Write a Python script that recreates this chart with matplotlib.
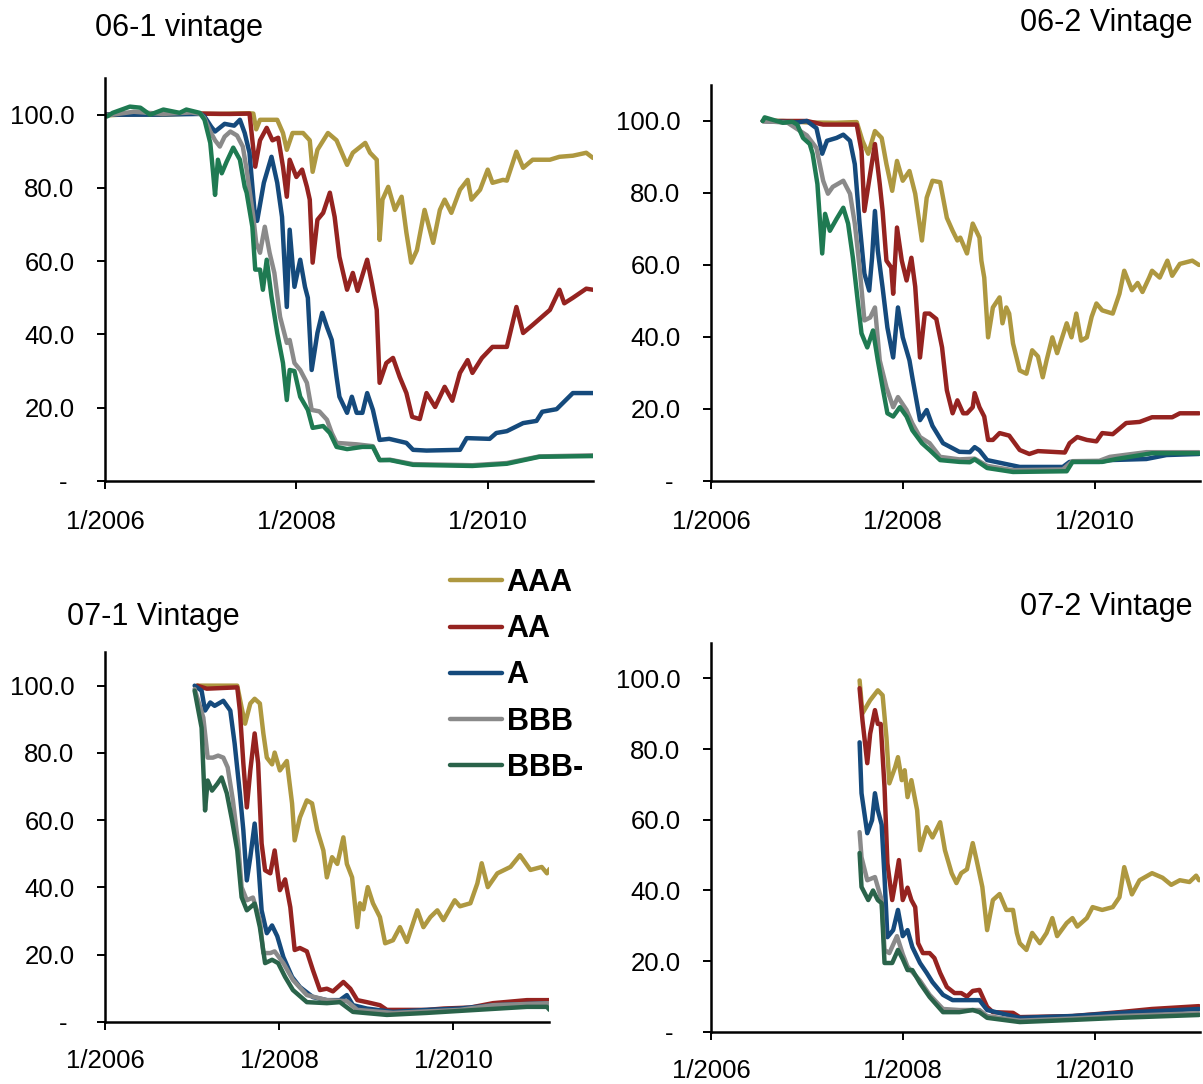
import numpy as np
import matplotlib
matplotlib.use('Agg')
import matplotlib.pyplot as plt
from matplotlib.lines import Line2D

plt.rcParams['font.family'] = ['Liberation Sans', 'DejaVu Sans']

ratings = ['AAA', 'AA', 'A', 'BBB', 'BBB-']
x_ticks = [2006, 2008, 2010]
x_labels = ['1/2006', '1/2008', '1/2010']
y_ticks = [0, 20, 40, 60, 80, 100]

# (decimal year, price)
# 06-1 vintage
p1_aaa = [(2006.02, 99.8), (2006.3, 100.2), (2006.6, 100.0), (2006.9, 100.3), (2007.2, 100.2),
          (2007.5, 100.4), (2007.55, 100.3), (2007.58, 96.0), (2007.62, 98.6), (2007.8, 98.6),
          (2007.86, 95), (2007.9, 90.4), (2007.96, 95), (2008.07, 95), (2008.14, 93), (2008.17, 84.4),
          (2008.22, 90.4), (2008.33, 95), (2008.42, 93), (2008.53, 86.3), (2008.59, 89.6),
          (2008.72, 92.3), (2008.77, 89.6), (2008.84, 87.7), (2008.87, 65.8), (2008.90, 76.8),
          (2008.96, 80.3), (2009.03, 74), (2009.10, 77.6), (2009.15, 67.8), (2009.20, 59.6),
          (2009.26, 63), (2009.34, 74), (2009.43, 65), (2009.50, 74), (2009.55, 76.8), (2009.62, 73.2),
          (2009.71, 79.5), (2009.79, 82.2), (2009.83, 76.8), (2009.92, 79.5), (2010.0, 85),
          (2010.05, 81.4), (2010.16, 82.2), (2010.20, 82), (2010.30, 89.9), (2010.37, 85.5),
          (2010.47, 87.7), (2010.65, 87.7), (2010.75, 88.5), (2010.89, 88.8), (2011.03, 89.6),
          (2011.10, 88.2)]
p1_aa = [(2006.02, 100), (2006.5, 100.2), (2007.0, 100.3), (2007.3, 100.2), (2007.51, 100.3),
         (2007.57, 85.8), (2007.62, 93), (2007.69, 96.4), (2007.75, 93), (2007.81, 93.7),
         (2007.86, 85.8), (2007.90, 77.6), (2007.93, 87.7), (2008.0, 83), (2008.06, 85),
         (2008.11, 80.3), (2008.14, 76.8), (2008.17, 59.6), (2008.22, 71.3), (2008.28, 73.2),
         (2008.35, 78.7), (2008.40, 72.1), (2008.45, 61.2), (2008.53, 52.2), (2008.59, 56.8),
         (2008.64, 51.9), (2008.74, 60.4), (2008.79, 53.9), (2008.84, 46.7), (2008.87, 26.8),
         (2008.94, 32.2), (2009.01, 33.6), (2009.08, 28.4), (2009.15, 24), (2009.21, 17.5),
         (2009.29, 16.9), (2009.36, 24), (2009.45, 20.2), (2009.55, 25.7), (2009.63, 21.9),
         (2009.71, 29.5), (2009.79, 33), (2009.84, 29.5), (2009.94, 33.6), (2010.05, 36.6),
         (2010.20, 36.6), (2010.30, 47.5), (2010.37, 40.4), (2010.47, 42.6), (2010.65, 46.7),
         (2010.75, 52.2), (2010.80, 48.5), (2010.89, 50), (2011.03, 52.5), (2011.10, 52.2)]
p1_a = [(2006.02, 100), (2006.5, 100), (2007.0, 100.2), (2007.04, 99.5), (2007.11, 96.7),
        (2007.15, 95.4), (2007.25, 97.5), (2007.35, 97), (2007.41, 98.6), (2007.46, 95),
        (2007.51, 89.6), (2007.57, 71.3), (2007.59, 71), (2007.66, 81.4), (2007.74, 88.5),
        (2007.80, 81.4), (2007.85, 72.1), (2007.90, 47.5), (2007.93, 68.6), (2007.98, 53),
        (2008.04, 60.4), (2008.09, 53), (2008.12, 50), (2008.16, 30.3), (2008.22, 40.4),
        (2008.27, 45.9), (2008.32, 42), (2008.37, 38.5), (2008.42, 28.4), (2008.45, 23),
        (2008.53, 18.6), (2008.58, 23), (2008.63, 18.6), (2008.69, 18.6), (2008.74, 24),
        (2008.80, 19.4), (2008.87, 11.2), (2008.97, 11.5), (2009.15, 10.4), (2009.22, 8.5),
        (2009.36, 8.3), (2009.71, 8.5), (2009.78, 11.7), (2010.02, 11.5), (2010.09, 13.1),
        (2010.20, 13.6), (2010.37, 15.8), (2010.51, 16.4), (2010.57, 18.9), (2010.72, 19.6),
        (2010.89, 24), (2011.10, 24)]
p1_bbb = [(2006.02, 99.8), (2006.3, 100.8), (2006.6, 100.2), (2006.9, 100.6), (2007.0, 100.2),
          (2007.04, 99), (2007.10, 95.4), (2007.15, 93), (2007.20, 91.3), (2007.25, 94),
          (2007.31, 95.4), (2007.38, 94.3), (2007.44, 91.3), (2007.48, 85), (2007.55, 72.1),
          (2007.58, 65), (2007.62, 62.3), (2007.67, 69.4), (2007.72, 62.3), (2007.77, 56.8),
          (2007.83, 44.8), (2007.90, 37.7), (2007.93, 38.5), (2007.98, 32.2), (2008.04, 30.3),
          (2008.11, 26.8), (2008.16, 19.4), (2008.24, 19), (2008.32, 16.7), (2008.37, 13.1),
          (2008.42, 10.4), (2008.63, 10), (2008.80, 9.5), (2008.87, 5.7), (2008.98, 5.8),
          (2009.22, 4.6), (2009.84, 4.3), (2010.20, 4.9), (2010.54, 6.7), (2011.10, 7)]
p1_bbbm = [(2006.02, 99.5), (2006.08, 100.5), (2006.26, 102.2), (2006.37, 101.9), (2006.47, 100),
           (2006.61, 101.4), (2006.78, 100.5), (2006.85, 101.4), (2006.99, 100.5), (2007.04, 98.6),
           (2007.10, 92.3), (2007.13, 84), (2007.15, 78.1), (2007.18, 87.7), (2007.22, 84),
           (2007.27, 87.1), (2007.34, 91), (2007.41, 87.7), (2007.46, 80.3), (2007.48, 78.7),
           (2007.54, 69.4), (2007.57, 57.7), (2007.62, 57.7), (2007.65, 52.2), (2007.69, 60.4),
           (2007.74, 50.3), (2007.80, 40.4), (2007.86, 32.2), (2007.90, 22.1), (2007.93, 30.3),
           (2007.98, 30), (2008.04, 23), (2008.12, 19.4), (2008.17, 14.5), (2008.28, 15),
           (2008.35, 13.1), (2008.42, 9.3), (2008.53, 8.7), (2008.69, 9.3), (2008.80, 9.3),
           (2008.87, 5.7), (2008.98, 5.7), (2009.22, 4.4), (2009.84, 4.1), (2010.20, 4.7),
           (2010.54, 6.6), (2011.10, 6.8)]

# 06-2 vintage
p2_aaa = [(2006.54, 100), (2006.75, 100), (2007.0, 99.6), (2007.3, 99.5), (2007.52, 99.7),
          (2007.58, 94.5), (2007.64, 90.9), (2007.71, 97.2), (2007.78, 95.3), (2007.83, 88),
          (2007.89, 80.6), (2007.94, 88.9), (2008.0, 83.4), (2008.07, 86.1), (2008.13, 79.8),
          (2008.20, 66.8), (2008.25, 78.7), (2008.31, 83.4), (2008.39, 83), (2008.46, 73.1),
          (2008.52, 69.5), (2008.57, 66.8), (2008.60, 67.6), (2008.67, 63.2), (2008.73, 71.5),
          (2008.80, 67.6), (2008.82, 61.2), (2008.85, 56.5), (2008.89, 39.9), (2008.94, 48.2),
          (2009.01, 51), (2009.04, 43.8), (2009.08, 48.2), (2009.11, 46.5), (2009.15, 38.2),
          (2009.22, 30.7), (2009.29, 29.8), (2009.35, 36.3), (2009.41, 34.6), (2009.46, 28.8),
          (2009.50, 33.5), (2009.56, 39.9), (2009.61, 35.5), (2009.71, 43.8), (2009.76, 39.9),
          (2009.81, 46.5), (2009.86, 39), (2009.92, 39.9), (2009.97, 45.6), (2010.02, 49.3),
          (2010.08, 47.4), (2010.19, 46.5), (2010.26, 52), (2010.31, 58.4), (2010.39, 53),
          (2010.45, 55), (2010.50, 52.5), (2010.57, 56.5), (2010.60, 58.4), (2010.68, 56.5),
          (2010.76, 61.2), (2010.81, 57), (2010.89, 60.3), (2011.02, 61.2), (2011.09, 60)]
p2_aa = [(2006.54, 100), (2006.75, 100), (2007.0, 100), (2007.17, 99), (2007.52, 99),
         (2007.57, 91.7), (2007.60, 75), (2007.66, 85.3), (2007.71, 93.6), (2007.76, 82.5),
         (2007.79, 75), (2007.83, 61.2), (2007.88, 59.3), (2007.90, 52), (2007.94, 70.4),
         (2007.99, 61.2), (2008.04, 55.7), (2008.09, 62), (2008.13, 54), (2008.18, 34.3),
         (2008.23, 46.5), (2008.28, 46.5), (2008.35, 45), (2008.41, 37.1), (2008.46, 25.2),
         (2008.52, 18.8), (2008.57, 22.4), (2008.63, 18.8), (2008.67, 18.8), (2008.73, 20.5),
         (2008.75, 24.4), (2008.80, 20.5), (2008.85, 17.9), (2008.89, 11.4), (2008.94, 11.4),
         (2009.01, 13.3), (2009.11, 12.6), (2009.22, 8.6), (2009.32, 7.5), (2009.41, 8.3),
         (2009.69, 7.9), (2009.74, 10.5), (2009.82, 12.2), (2009.92, 11.4), (2010.02, 11),
         (2010.08, 13.3), (2010.19, 13), (2010.33, 16.1), (2010.47, 16.4), (2010.60, 17.7),
         (2010.81, 17.7), (2010.89, 18.8), (2011.09, 18.8)]
p2_a = [(2006.54, 100), (2006.9, 99.6), (2007.0, 100), (2007.10, 98), (2007.16, 90.9),
        (2007.21, 94.5), (2007.31, 95.3), (2007.38, 96.2), (2007.45, 94.5), (2007.50, 88),
        (2007.55, 71.5), (2007.60, 57.6), (2007.65, 52.9), (2007.68, 62), (2007.71, 75),
        (2007.74, 64), (2007.79, 53.7), (2007.84, 42.6), (2007.90, 34.3), (2007.95, 48.2),
        (2008.0, 39.9), (2008.07, 33.5), (2008.10, 28.8), (2008.18, 16.9), (2008.25, 19.7),
        (2008.31, 15.3), (2008.42, 10.5), (2008.59, 8.1), (2008.70, 8.0), (2008.75, 9.4),
        (2008.80, 8.5), (2008.88, 5.8), (2009.22, 3.9), (2009.67, 3.9), (2009.74, 5.3),
        (2010.05, 5.3), (2010.16, 5.8), (2010.54, 6.1), (2010.75, 7.2), (2011.09, 7.5)]
p2_bbb = [(2006.54, 100), (2006.8, 99.5), (2007.0, 96), (2007.10, 92.5), (2007.17, 83.4),
          (2007.22, 79.8), (2007.27, 81.7), (2007.38, 83.4), (2007.45, 79.8), (2007.50, 71.5),
          (2007.55, 59.3), (2007.60, 44.6), (2007.66, 45.4), (2007.71, 48.2), (2007.76, 33.5),
          (2007.83, 26), (2007.90, 20.5), (2007.95, 23.3), (2008.04, 19.7), (2008.10, 16),
          (2008.18, 12.2), (2008.28, 10.5), (2008.39, 6.7), (2008.59, 6), (2008.75, 6.2),
          (2008.88, 4.2), (2009.15, 3.0), (2009.67, 3.2), (2009.77, 5.5), (2010.05, 5.6),
          (2010.16, 6.7), (2010.54, 8), (2011.09, 8)]
p2_bbbm = [(2006.54, 100), (2006.56, 101), (2006.75, 99.5), (2006.85, 99.8), (2006.90, 99),
           (2006.96, 95.3), (2007.03, 93.6), (2007.06, 90.9), (2007.11, 82.5), (2007.16, 63.2),
           (2007.19, 74.2), (2007.24, 69.5), (2007.31, 72.8), (2007.38, 75.9), (2007.43, 71.5),
           (2007.48, 62), (2007.53, 50.1), (2007.57, 41), (2007.63, 37.1), (2007.69, 41.8),
           (2007.74, 33.5), (2007.79, 26), (2007.84, 18.8), (2007.90, 17.9), (2007.97, 20.5),
           (2008.04, 17.9), (2008.10, 14.1), (2008.20, 10.5), (2008.28, 8.6), (2008.39, 5.8),
           (2008.59, 5.3), (2008.70, 5.2), (2008.75, 6.0), (2008.88, 3.6), (2009.15, 2.5),
           (2009.71, 2.7), (2009.77, 5.3), (2010.08, 5.3), (2010.23, 6.1), (2010.60, 7.7),
           (2011.09, 7.7)]

# 07-1 vintage
p3_aaa = [(2007.06, 100), (2007.52, 100), (2007.57, 93.5), (2007.61, 88.7), (2007.67, 94.7),
          (2007.72, 96.1), (2007.78, 94.7), (2007.82, 85.8), (2007.86, 78.6), (2007.92, 76.6),
          (2007.95, 80.1), (2008.01, 74.8), (2008.09, 77.6), (2008.15, 65), (2008.18, 54),
          (2008.24, 60.8), (2008.32, 65.9), (2008.38, 65), (2008.44, 57), (2008.51, 51),
          (2008.55, 43), (2008.61, 49), (2008.67, 47), (2008.74, 54.9), (2008.78, 47),
          (2008.84, 43), (2008.90, 28.2), (2008.93, 35.3), (2008.97, 33.5), (2009.02, 40.1),
          (2009.08, 35.3), (2009.16, 31.2), (2009.22, 23.4), (2009.31, 24.3), (2009.39, 28.2),
          (2009.47, 23.8), (2009.59, 33.2), (2009.66, 28.2), (2009.74, 31.2), (2009.82, 33.2),
          (2009.89, 30.3), (2010.02, 36.2), (2010.08, 34.4), (2010.20, 35.3), (2010.28, 41.2),
          (2010.33, 47.2), (2010.40, 40.1), (2010.51, 44.2), (2010.66, 46.1), (2010.77, 49.6),
          (2010.89, 45.2), (2011.02, 46.1), (2011.08, 44.2), (2011.11, 45.5)]
p3_aa = [(2007.06, 100), (2007.17, 99.1), (2007.52, 99.5), (2007.55, 92.6), (2007.59, 76.9),
         (2007.63, 63.8), (2007.67, 74.8), (2007.72, 85.8), (2007.76, 76.9), (2007.80, 53.1),
         (2007.84, 45.1), (2007.90, 44.2), (2007.95, 51), (2008.01, 39.2), (2008.07, 42.4),
         (2008.13, 34.1), (2008.18, 21.4), (2008.24, 22), (2008.32, 21), (2008.39, 15.4),
         (2008.47, 9.5), (2008.55, 9.9), (2008.62, 9.1), (2008.74, 11.9), (2008.82, 9.9),
         (2008.90, 6.5), (2009.01, 5.9), (2009.16, 5), (2009.24, 3.6), (2009.70, 3.6),
         (2009.89, 4), (2010.20, 4.3), (2010.46, 5.6), (2010.85, 6.5), (2011.11, 6.5)]
p3_a = [(2007.03, 100), (2007.11, 98.5), (2007.15, 92.6), (2007.21, 95), (2007.26, 94),
        (2007.36, 95.5), (2007.44, 92.6), (2007.49, 82.8), (2007.55, 68), (2007.59, 57),
        (2007.63, 42.1), (2007.67, 49), (2007.72, 59), (2007.76, 48), (2007.80, 33.2),
        (2007.86, 26.4), (2007.92, 28.7), (2007.98, 25.5), (2008.05, 19.3), (2008.15, 13.4),
        (2008.24, 10.4), (2008.39, 7.4), (2008.55, 6.5), (2008.70, 6.5), (2008.78, 8),
        (2008.85, 5), (2009.01, 4), (2009.31, 3), (2009.70, 3.6), (2010.08, 4), (2010.46, 5),
        (2011.11, 5.6)]
p3_bbb = [(2007.03, 99), (2007.13, 90.5), (2007.18, 78.6), (2007.24, 78.6), (2007.30, 79.2),
          (2007.36, 78.6), (2007.41, 75.7), (2007.47, 65.9), (2007.53, 53.1), (2007.57, 40.1),
          (2007.63, 36.2), (2007.70, 37), (2007.78, 30.3), (2007.82, 20.5), (2007.90, 20.5),
          (2007.95, 21), (2008.05, 17.5), (2008.16, 12.5), (2008.32, 8), (2008.55, 6.5),
          (2008.78, 6.2), (2008.90, 3.6), (2009.31, 2.7), (2010.08, 3.6), (2010.46, 5),
          (2011.11, 5.6)]
p3_bbbm = [(2007.03, 98.5), (2007.11, 87.5), (2007.15, 62.9), (2007.18, 71.8), (2007.23, 68.8),
           (2007.29, 70.8), (2007.34, 72.7), (2007.40, 68), (2007.46, 60), (2007.52, 51),
           (2007.57, 37.1), (2007.63, 33.2), (2007.72, 35.2), (2007.78, 28.2), (2007.84, 17.5),
           (2007.92, 18.5), (2007.99, 17.5), (2008.07, 13.4), (2008.16, 9.5), (2008.32, 5.9),
           (2008.55, 5.6), (2008.70, 5.9), (2008.85, 3), (2009.24, 2.1), (2009.70, 2.7),
           (2010.08, 3.3), (2010.85, 4.5), (2011.08, 4.5), (2011.11, 3.6)]

# 07-2 vintage
p4_aaa = [(2007.55, 99.4), (2007.58, 90.1), (2007.66, 93.8), (2007.74, 96.6), (2007.79, 95.2),
          (2007.83, 83.3), (2007.86, 70.3), (2007.92, 74.8), (2007.95, 77.7), (2007.99, 71.2),
          (2008.02, 74), (2008.05, 66.4), (2008.09, 71.2), (2008.15, 62.7), (2008.18, 51.4),
          (2008.25, 57.9), (2008.31, 55), (2008.39, 59.3), (2008.44, 51.4), (2008.51, 44.9),
          (2008.56, 42.1), (2008.61, 44.9), (2008.67, 46), (2008.73, 53.4), (2008.77, 48.6),
          (2008.83, 41), (2008.88, 28.8), (2008.94, 37.3), (2009.01, 39), (2009.08, 34.5),
          (2009.15, 34.5), (2009.19, 28), (2009.22, 25.1), (2009.29, 23.2), (2009.35, 28),
          (2009.43, 25.1), (2009.50, 28), (2009.56, 32.2), (2009.61, 27.1), (2009.71, 30.8),
          (2009.77, 32.2), (2009.82, 29.8), (2009.92, 32.2), (2009.98, 35.3), (2010.08, 34.5),
          (2010.19, 35.3), (2010.26, 38.1), (2010.31, 46.6), (2010.39, 38.9), (2010.47, 42.9),
          (2010.60, 44.9), (2010.71, 43.6), (2010.80, 41.6), (2010.89, 42.9), (2010.99, 42.4),
          (2011.06, 44.2), (2011.09, 42.9)]
p4_aa = [(2007.55, 97.2), (2007.58, 88.1), (2007.63, 76), (2007.66, 84.3), (2007.71, 91),
         (2007.74, 87.1), (2007.77, 87.1), (2007.81, 69.2), (2007.84, 47.7), (2007.89, 37.3),
         (2007.92, 41.9), (2007.96, 48.6), (2008.0, 37.3), (2008.05, 40.8), (2008.09, 37.3),
         (2008.13, 35.3), (2008.16, 25.1), (2008.21, 22.3), (2008.28, 22.3), (2008.33, 20.9),
         (2008.39, 16.7), (2008.46, 12.7), (2008.54, 11), (2008.61, 11), (2008.67, 10),
         (2008.73, 11.6), (2008.80, 11.9), (2008.88, 7.1), (2008.94, 5.6), (2009.15, 5.4),
         (2009.22, 4.2), (2009.77, 4.5), (2010.26, 5.6), (2010.60, 6.5), (2011.09, 7.3)]
p4_a = [(2007.55, 81.9), (2007.57, 67.5), (2007.63, 56.2), (2007.68, 59.9), (2007.71, 67.5),
        (2007.74, 62.7), (2007.78, 58.6), (2007.81, 43.8), (2007.84, 26.8), (2007.90, 28.8),
        (2007.95, 34.5), (2008.0, 27.1), (2008.05, 28.8), (2008.10, 24), (2008.18, 19.5),
        (2008.25, 16.7), (2008.31, 14.1), (2008.42, 10.5), (2008.52, 9), (2008.67, 9),
        (2008.80, 9), (2008.88, 6.2), (2009.22, 4), (2009.77, 4.5), (2010.26, 5.4), (2011.09, 6.5)]
p4_bbb = [(2007.55, 56.5), (2007.57, 49.4), (2007.63, 42.9), (2007.71, 43.8), (2007.78, 37.3),
          (2007.81, 23.2), (2007.86, 22.3), (2007.94, 27.1), (2008.0, 22), (2008.05, 18.5),
          (2008.18, 14.5), (2008.28, 10.5), (2008.42, 6.5), (2008.59, 6.2), (2008.80, 6.2),
          (2008.88, 4.5), (2009.22, 3.2), (2009.77, 3.8), (2010.26, 4.5), (2011.09, 5.3)]
p4_bbbm = [(2007.55, 50.6), (2007.57, 41), (2007.64, 37.3), (2007.69, 40), (2007.74, 37.3),
           (2007.78, 36.4), (2007.81, 19.5), (2007.89, 19.5), (2007.95, 23.2), (2008.0, 20.6),
           (2008.05, 17.5), (2008.10, 17.5), (2008.18, 13.8), (2008.28, 9.9), (2008.42, 5.6),
           (2008.59, 5.6), (2008.73, 6.2), (2008.80, 5.6), (2008.88, 4), (2009.22, 2.8),
           (2009.77, 3.4), (2010.26, 4), (2011.09, 4.8)]

gold, red, blue, grey = '#AE9840', '#952320', '#154A7C', '#8A8A8A'
green_light, green_dark = '#1F7A52', '#2A634A'

# title, series, axes rect, title x, title y, title alignment, green used, x label pad
panels = [
    ('06-1 vintage', [p1_aaa, p1_aa, p1_a, p1_bbb, p1_bbbm], [0.0873, 0.5563, 0.4056, 0.3717],
     0.079, 0.974, 'left', green_light, 15),
    ('06-2 Vintage', [p2_aaa, p2_aa, p2_a, p2_bbb, p2_bbbm], [0.591, 0.5563, 0.4065, 0.3653],
     0.991, 0.9787, 'right', green_light, 15),
    ('07-1 Vintage', [p3_aaa, p3_aa, p3_a, p3_bbb, p3_bbbm], [0.0873, 0.0572, 0.3688, 0.3413],
     0.0557, 0.4308, 'left', green_dark, 13.5),
    ('07-2 Vintage', [p4_aaa, p4_aa, p4_a, p4_bbb, p4_bbbm], [0.591, 0.048, 0.4065, 0.3589],
     0.991, 0.44, 'right', green_dark, 13.5),
]

fig = plt.figure(figsize=(12.03, 10.84), dpi=100)

for title, series, rect, tx, ty, ha, green, xpad in panels:
    ax = fig.add_axes(rect)
    cols = [gold, red, blue, grey, green]
    for s, c in zip(series, cols):
        t, v = np.array(s).T
        ax.plot(t, v, color=c, lw=3.2, solid_joinstyle='round', solid_capstyle='round')
    ax.set_xlim(2006, 2011.1)
    ax.set_ylim(0, 110)
    ax.set_xticks(x_ticks)
    ax.set_xticklabels(x_labels)
    ax.set_yticks(y_ticks)
    ax.set_yticklabels(['- ' if y == 0 else f'{y:.1f}' for y in y_ticks])
    for side in ['top', 'right']:
        ax.spines[side].set_visible(False)
    for side in ['left', 'bottom']:
        ax.spines[side].set_linewidth(1.8)
    ax.tick_params(direction='out', length=6, width=1.4, labelsize=18.5)
    ax.tick_params(axis='y', pad=16)
    ax.tick_params(axis='x', pad=xpad)
    fig.text(tx, ty, title, fontsize=22, ha=ha, va='center')

handles = [Line2D([], [], color=c, lw=3.2, solid_capstyle='round')
           for c in [gold, red, blue, grey, green_dark]]
fig.legend(handles, ratings, loc='upper left', bbox_to_anchor=(450 / 1203, 1 - 568 / 1084),
           frameon=False, prop={'weight': 'bold', 'size': 22}, handlelength=1.7,
           handletextpad=0.15, labelspacing=0.53, borderpad=0, borderaxespad=0)

fig.savefig('out.png', dpi=100)
